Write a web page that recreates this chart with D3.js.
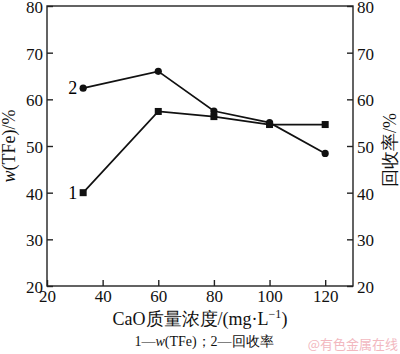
<!DOCTYPE html>
<html><head><meta charset="utf-8">
<script src="https://cdn.jsdelivr.net/npm/d3@7"></script>
<style>body{margin:0;background:#fff}svg{display:block}
.serif{font-family:"Liberation Serif","DejaVu Serif","Times New Roman",serif}</style>
</head><body>
<svg id="c" width="400" height="354"></svg>
<script>
const xValues = [33, 60, 80, 100, 120];
const tfeValues = [40.0, 57.4, 56.3, 54.6, 54.6];
const recoveryValues = [62.4, 66.0, 57.5, 55.0, 48.4];
const xTicks = [20, 40, 60, 80, 100, 120];
const yTicks = [20, 30, 40, 50, 60, 70, 80];
const seriesLabels = ["1", "2"];
const xTitle = "CaO质量浓度/(mg·L";

const svg = d3.select("#c");
const L = 47, R = 353, T = 6, B = 286;
const x = d3.scaleLinear().domain([20, 130]).range([L, R]);
const y = d3.scaleLinear().domain([20, 80]).range([B, T]);

svg.append("rect").attr("x", L).attr("y", T).attr("width", R - L).attr("height", B - T)
  .attr("fill", "none").attr("stroke", "#222").attr("stroke-width", 1.4);

const tickLen = 6;
function styleAxis(g) {
  g.attr("font-family", null);
  g.select(".domain").remove();
  g.selectAll(".tick line").attr("stroke", "#222").attr("stroke-width", 1.4);
  g.selectAll(".tick text").attr("class", "serif").attr("font-size", 17).attr("fill", "#111");
}
svg.append("g").attr("transform", `translate(0,${B})`)
  .call(d3.axisBottom(x).tickValues(xTicks).tickSizeInner(-tickLen).tickPadding(4).tickSizeOuter(0))
  .call(styleAxis);
svg.append("g").attr("transform", `translate(${L},0)`)
  .call(d3.axisLeft(y).tickValues(yTicks).tickSizeInner(-tickLen).tickPadding(4).tickSizeOuter(0))
  .call(styleAxis)
  .selectAll(".tick text").attr("dy", "0.38em");
svg.append("g").attr("transform", `translate(${R},0)`)
  .call(d3.axisRight(y).tickValues(yTicks).tickSizeInner(-tickLen).tickPadding(4).tickSizeOuter(0))
  .call(styleAxis)
  .selectAll(".tick text").attr("dy", "0.38em");

const line = d3.line().x(d => x(d[0])).y(d => y(d[1]));
const s1 = xValues.map((v, i) => [v, tfeValues[i]]);
const s2 = xValues.map((v, i) => [v, recoveryValues[i]]);
[s1, s2].forEach(s => svg.append("path").datum(s).attr("d", line)
  .attr("fill", "none").attr("stroke", "#111").attr("stroke-width", 1.7));

svg.selectAll(".sq").data(s1).enter().append("rect")
  .attr("x", d => x(d[0]) - 3.5).attr("y", d => y(d[1]) - 3.5)
  .attr("width", 7).attr("height", 7).attr("fill", "#111");
svg.selectAll(".ci").data(s2).enter().append("circle")
  .attr("cx", d => x(d[0])).attr("cy", d => y(d[1])).attr("r", 3.6).attr("fill", "#111");

svg.append("text").attr("class", "serif").attr("x", x(xValues[0]) - 6).attr("y", y(tfeValues[0]) + 6)
  .attr("text-anchor", "end").attr("font-size", 18).text(seriesLabels[0]);
svg.append("text").attr("class", "serif").attr("x", x(xValues[0]) - 6).attr("y", y(recoveryValues[0]) + 6)
  .attr("text-anchor", "end").attr("font-size", 18).text(seriesLabels[1]);

const yl = svg.append("text").attr("class", "serif").attr("transform", `translate(15,${(T + B) / 2}) rotate(-90)`)
  .attr("text-anchor", "middle").attr("font-size", 18).attr("fill", "#111");
yl.append("tspan").attr("font-style", "italic").text("w");
yl.append("tspan").text("(TFe)/%");

svg.append("text").attr("class", "serif").attr("transform", `translate(392,${(T + B) / 2 + 4}) rotate(-90)`)
  .attr("text-anchor", "middle").attr("dominant-baseline", "middle")
  .attr("font-size", 18).attr("fill", "#111").text("回收率/%");

const xt = svg.append("text").attr("class", "serif").attr("x", 200).attr("y", 325).attr("text-anchor", "middle")
  .attr("font-size", 18).attr("fill", "#111");
xt.append("tspan").text(xTitle);
xt.append("tspan").attr("font-size", 12).attr("dy", -7).text("−1");
xt.append("tspan").attr("dy", 7).text(")");

const lg = svg.append("text").attr("class", "serif").attr("x", 204).attr("y", 346).attr("text-anchor", "middle")
  .attr("font-size", 14).attr("fill", "#111");
lg.append("tspan").text("1—");
lg.append("tspan").attr("font-style", "italic").text("w");
lg.append("tspan").text("(TFe)；2—回收率");

svg.append("text").attr("x", 398).attr("y", 349).attr("text-anchor", "end")
  .attr("font-family", "'Noto Sans CJK SC',sans-serif").attr("font-size", 13)
  .attr("fill", "#f2b8bf").text("@有色金属在线");
</script>
</body></html>
